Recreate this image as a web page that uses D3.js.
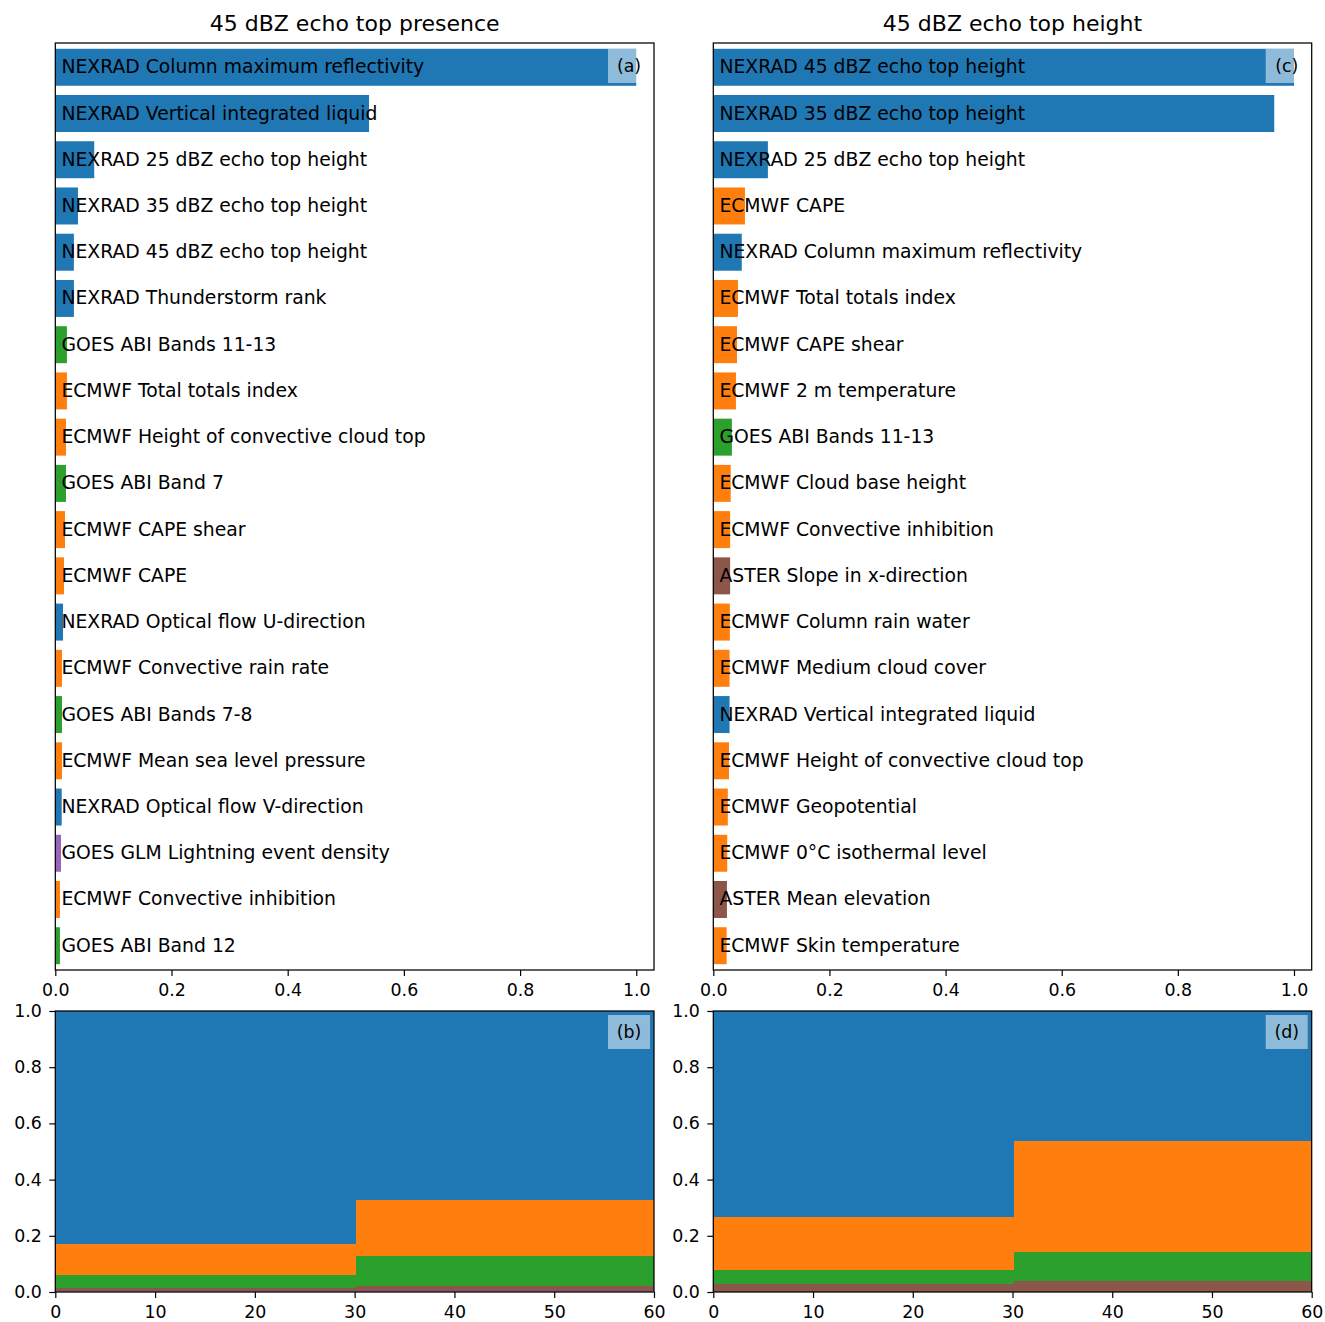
<!DOCTYPE html>
<html><head><meta charset="utf-8">
<script src="https://cdn.jsdelivr.net/npm/d3@7"></script>
<style>
body{margin:0;background:#fff;}
text{font-family:"DejaVu Sans",sans-serif;}
</style></head>
<body><svg id="chart" width="1325" height="1322"></svg>
<script>
// ---- data ----
const presenceLabels = ["NEXRAD Column maximum reflectivity","NEXRAD Vertical integrated liquid","NEXRAD 25 dBZ echo top height","NEXRAD 35 dBZ echo top height","NEXRAD 45 dBZ echo top height","NEXRAD Thunderstorm rank","GOES ABI Bands 11-13","ECMWF Total totals index","ECMWF Height of convective cloud top","GOES ABI Band 7","ECMWF CAPE shear","ECMWF CAPE","NEXRAD Optical flow U-direction","ECMWF Convective rain rate","GOES ABI Bands 7-8","ECMWF Mean sea level pressure","NEXRAD Optical flow V-direction","GOES GLM Lightning event density","ECMWF Convective inhibition","GOES ABI Band 12"];
const presenceValues = [1.0,0.54,0.067,0.039,0.032,0.032,0.020,0.020,0.0184,0.0184,0.0167,0.015,0.0133,0.0115,0.0115,0.0115,0.011,0.0098,0.008,0.008];
const heightLabels = ["NEXRAD 45 dBZ echo top height","NEXRAD 35 dBZ echo top height","NEXRAD 25 dBZ echo top height","ECMWF CAPE","NEXRAD Column maximum reflectivity","ECMWF Total totals index","ECMWF CAPE shear","ECMWF 2 m temperature","GOES ABI Bands 11-13","ECMWF Cloud base height","ECMWF Convective inhibition","ASTER Slope in x-direction","ECMWF Column rain water","ECMWF Medium cloud cover","NEXRAD Vertical integrated liquid","ECMWF Height of convective cloud top","ECMWF Geopotential","ECMWF 0°C isothermal level","ASTER Mean elevation","ECMWF Skin temperature"];
const heightValues = [1.0,0.966,0.094,0.0545,0.049,0.0425,0.0408,0.039,0.032,0.030,0.029,0.029,0.0285,0.028,0.028,0.027,0.025,0.024,0.0235,0.023];

const sourceNames = ["GOES GLM","ASTER","GOES ABI","ECMWF","NEXRAD"]; // stacking order bottom-up
const sourceColors = ["#9467bd","#8c564b","#2ca02c","#ff7f0e","#1f77b4"];
const timeBins = [0,30,60];
const presenceShares = { // per time bin, share of each source
  "GOES GLM":[0.002,0.004], "ASTER":[0.013,0.018], "GOES ABI":[0.045,0.106], "ECMWF":[0.112,0.199], "NEXRAD":[0.828,0.673]
};
const heightShares = {
  "GOES GLM":[0,0], "ASTER":[0.0275,0.038], "GOES ABI":[0.05,0.103], "ECMWF":[0.19,0.397], "NEXRAD":[0.7325,0.462]
};
const titles = ["45 dBZ echo top presence","45 dBZ echo top height"];
const barTicks = [0,0.2,0.4,0.6,0.8,1.0];
const stackYTicks = [0,0.2,0.4,0.6,0.8,1.0];
const stackXTicks = [0,10,20,30,40,50,60];

// ---- layout ----
const svg = d3.select("#chart");
const colorOf = lbl => {
  for (let i=0;i<sourceNames.length;i++) if (lbl.startsWith(sourceNames[i])) return sourceColors[i];
  return "#1f77b4";
};
const cols = [{x0:55.3,x1:654},{x0:713.3,x1:1311.7}];
const topY = [43,970], botY=[1011,1292];
const FS_T = 17.4, FS_L = 18.8, FS_TITLE = 22;

function styleAxis(g){
  g.select(".domain").remove();
  g.selectAll(".tick line").attr("stroke","#000").attr("stroke-width",1.2);
  g.selectAll(".tick text").attr("fill","#000").style("font-size",FS_T+"px").style("font-family","DejaVu Sans");
}
function frame(x0,x1,y0,y1){
  svg.append("rect").attr("x",x0).attr("y",y0).attr("width",x1-x0).attr("height",y1-y0)
    .attr("fill","none").attr("stroke","#000").attr("stroke-width",1.25);
}
function tag(x1,y0,t,dy){
  const g = svg.append("g");
  g.append("rect").attr("x",x1-46).attr("y",y0+4+dy).attr("width",42).attr("height",34)
    .attr("fill","#fff").attr("fill-opacity",0.5);
  g.append("text").attr("x",x1-25).attr("y",y0+21+dy).attr("text-anchor","middle")
    .attr("dominant-baseline","central").style("font-size",FS_T+"px").text(t);
}

function barPanel(c, labels, values, title, letter){
  const x = d3.scaleLinear().domain([0,1.0305]).range([c.x0,c.x1]);
  const y = d3.scaleLinear().domain([-0.525,19.525]).range([topY[0],topY[1]]);
  const g = svg.append("g");
  g.selectAll("rect").data(values).join("rect")
    .attr("x",x(0)).attr("y",(d,i)=>y(i-0.4)).attr("width",d=>x(d)-x(0)).attr("height",(d,i)=>y(i+0.4)-y(i-0.4))
    .attr("fill",(d,i)=>colorOf(labels[i]));
  g.selectAll("text").data(labels).join("text")
    .attr("x",x(0.0105)).attr("y",(d,i)=>y(i)-0.5).attr("dominant-baseline","central")
    .style("font-size",FS_L+"px").attr("fill","#000").text(d=>d);
  tag(c.x1,topY[0],letter,2);
  frame(c.x0,c.x1,topY[0],topY[1]);
  const ax = svg.append("g").attr("transform",`translate(0,${topY[1]})`)
    .call(d3.axisBottom(x).tickValues(barTicks).tickFormat(d3.format(".1f")).tickSize(6).tickPadding(8));
  styleAxis(ax);
  svg.append("text").attr("x",(c.x0+c.x1)/2).attr("y",31).attr("text-anchor","middle")
    .style("font-size",FS_TITLE+"px").text(title);
}

function stackPanel(c, shares, letter){
  const x = d3.scaleLinear().domain([0,60]).range([c.x0,c.x1]);
  const y = d3.scaleLinear().domain([0,1]).range([botY[1],botY[0]]);
  const rows = [0,1].map(b => { const o={bin:b}; sourceNames.forEach(s=>o[s]=shares[s][b]); return o; });
  const series = d3.stack().keys(sourceNames)(rows);
  const g = svg.append("g").attr("shape-rendering","crispEdges");
  series.forEach((s,si)=>{
    g.selectAll(null).data(s).join("rect")
      .attr("x",d=>x(timeBins[d.data.bin])).attr("width",d=>x(timeBins[d.data.bin+1])-x(timeBins[d.data.bin])+(d.data.bin===0?1:0))
      .attr("y",d=>y(d[1])).attr("height",d=>Math.max(0,y(d[0])-y(d[1])))
      .attr("fill",sourceColors[si]);
  });
  tag(c.x1,botY[0],letter,0);
  frame(c.x0,c.x1,botY[0],botY[1]);
  const ax = svg.append("g").attr("transform",`translate(0,${botY[1]})`)
    .call(d3.axisBottom(x).tickValues(stackXTicks).tickFormat(d3.format("d")).tickSize(6).tickPadding(8));
  styleAxis(ax);
  const ay = svg.append("g").attr("transform",`translate(${c.x0},0)`)
    .call(d3.axisLeft(y).tickValues(stackYTicks).tickFormat(d3.format(".1f")).tickSize(6).tickPadding(7.5));
  styleAxis(ay);
}

barPanel(cols[0], presenceLabels, presenceValues, titles[0], "(a)");
barPanel(cols[1], heightLabels, heightValues, titles[1], "(c)");
stackPanel(cols[0], presenceShares, "(b)");
stackPanel(cols[1], heightShares, "(d)");
</script></body></html>
